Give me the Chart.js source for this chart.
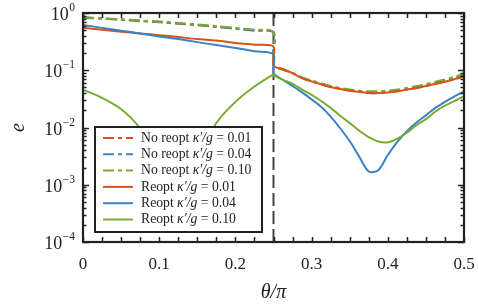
<!DOCTYPE html>
<html>
<head>
<meta charset="utf-8">
<script src="https://cdn.jsdelivr.net/npm/chart.js@4/dist/chart.umd.min.js"></script>
<style>
    html, body { margin: 0; padding: 0; background: #fff; }
    #wrap { width: 478px; height: 305px; position: relative; }
</style>
</head>
<body>
<div id="wrap"><canvas id="chartE"></canvas></div>
<script>
// ---- data ----
const thetaLeft = [0, 0.025, 0.05, 0.075, 0.1, 0.125, 0.15, 0.175, 0.2, 0.225, 0.25];
const thetaRight = [0.25, 0.2625, 0.275, 0.2875, 0.3, 0.3125, 0.325, 0.3375, 0.35, 0.3625, 0.375,
                    0.3875, 0.4, 0.4125, 0.425, 0.4375, 0.45, 0.4625, 0.475, 0.4875, 0.5];

// No reopt (dash-dot)
const noReopt01Left  = [0.83, 0.79, 0.76, 0.72, 0.69, 0.65, 0.61, 0.57, 0.53, 0.49, 0.45];
const noReopt04Left  = [0.84, 0.80, 0.77, 0.73, 0.70, 0.66, 0.62, 0.58, 0.54, 0.50, 0.455];
const noReopt10Left  = [0.85, 0.81, 0.78, 0.74, 0.71, 0.67, 0.63, 0.59, 0.55, 0.51, 0.46];
const noReopt01Right = [0.122, 0.103, 0.089, 0.073, 0.064, 0.057, 0.051, 0.047, 0.044, 0.042, 0.040,
                        0.040, 0.041, 0.043, 0.046, 0.049, 0.053, 0.058, 0.063, 0.070, 0.078];
const noReopt04Right = [0.122, 0.103, 0.089, 0.074, 0.065, 0.058, 0.052, 0.048, 0.045, 0.043, 0.041,
                        0.041, 0.042, 0.044, 0.047, 0.051, 0.055, 0.060, 0.066, 0.073, 0.083];
const noReopt10Right = [0.122, 0.104, 0.090, 0.075, 0.066, 0.059, 0.053, 0.049, 0.046, 0.044, 0.043,
                        0.043, 0.044, 0.046, 0.049, 0.053, 0.057, 0.063, 0.069, 0.077, 0.088];

// Reopt (solid)
const reopt01Left  = [0.55, 0.51, 0.47, 0.44, 0.41, 0.38, 0.35, 0.33, 0.30, 0.28, 0.26];
const reopt04Left  = [0.62, 0.55, 0.49, 0.44, 0.39, 0.35, 0.31, 0.275, 0.245, 0.215, 0.19];
const reopt10Left  = [0.046, 0.033, 0.021, 0.0098, 0.003, 0.0003, 0.003, 0.012, 0.028, 0.052, 0.085];
const reopt01Right = [0.122, 0.103, 0.089, 0.073, 0.064, 0.057, 0.051, 0.047, 0.044, 0.042, 0.040,
                      0.040, 0.041, 0.043, 0.046, 0.049, 0.053, 0.058, 0.063, 0.070, 0.078];
const reopt04Right = [0.090, 0.068, 0.053, 0.041, 0.031, 0.023, 0.0155, 0.0097, 0.0058, 0.0031, 0.0017,
                      0.0018, 0.0033, 0.0056, 0.0086, 0.0122, 0.0163, 0.022, 0.028, 0.035, 0.043];
const reopt10Right = [0.082, 0.068, 0.058, 0.046, 0.037, 0.029, 0.022, 0.016, 0.012, 0.0088, 0.0068,
                      0.0057, 0.0055, 0.0064, 0.0081, 0.011, 0.014, 0.019, 0.024, 0.029, 0.035];

const switchTheta = 0.25;
const xTicks = [0, 0.1, 0.2, 0.3, 0.4, 0.5];
const yTickExps = [0, -1, -2, -3, -4];
const kappaLabels = ['0.01', '0.04', '0.10'];

// ---- styling ----
const C_RED = '#D95319';
const C_BLUE = '#3B82C4';
const C_GREEN = '#77AC30';
const DASHDOT = [11, 4, 4, 4];
const SERIF = '"Liberation Serif", "DejaVu Serif", serif';

function joinSides(left, right) {
    const pts = thetaLeft.map((x, i) => ({ x: x, y: left[i] }));
    return pts.concat(thetaRight.map((x, i) => ({ x: x, y: right[i] })));
}

function lineSet(label, color, left, right, dashed, order) {
    return {
        label: label,
        data: joinSides(left, right),
        borderColor: color,
        backgroundColor: color,
        borderWidth: 2,
        borderDash: dashed ? DASHDOT : [],
        pointRadius: 0,
        tension: 0.3,
        order: order
    };
}

const datasets = [
    {
        label: 'switch',
        data: [{ x: switchTheta, y: 1e-4 }, { x: switchTheta, y: 1 }],
        borderColor: '#444',
        borderWidth: 2,
        borderDash: [13, 5],
        pointRadius: 0,
        order: 10
    },
    lineSet('No reopt 0.01', C_RED, noReopt01Left, noReopt01Right, true, 8),
    lineSet('No reopt 0.04', C_BLUE, noReopt04Left, noReopt04Right, true, 7),
    lineSet('No reopt 0.10', C_GREEN, noReopt10Left, noReopt10Right, true, 6),
    lineSet('Reopt 0.01', C_RED, reopt01Left, reopt01Right, false, 3),
    lineSet('Reopt 0.04', C_BLUE, reopt04Left, reopt04Right, false, 2),
    lineSet('Reopt 0.10', C_GREEN, reopt10Left, reopt10Right, false, 1)
];

const legendRows = [
    { kind: 'No reopt', color: C_RED, k: kappaLabels[0], dashed: true },
    { kind: 'No reopt', color: C_BLUE, k: kappaLabels[1], dashed: true },
    { kind: 'No reopt', color: C_GREEN, k: kappaLabels[2], dashed: true },
    { kind: 'Reopt', color: C_RED, k: kappaLabels[0], dashed: false },
    { kind: 'Reopt', color: C_BLUE, k: kappaLabels[1], dashed: false },
    { kind: 'Reopt', color: C_GREEN, k: kappaLabels[2], dashed: false }
];

// box, inward ticks, y labels, titles, legend
const framePlugin = {
    id: 'frame',
    afterDraw(chart) {
        const ctx = chart.ctx;
        const a = chart.chartArea;
        const xs = chart.scales.x;
        const ys = chart.scales.y;
        ctx.save();

        // inward ticks
        ctx.strokeStyle = '#222';
        ctx.lineWidth = 1.5;
        ctx.beginPath();
        for (let v = 0; v <= 0.5001; v += 0.025) {
            const px = Math.round(xs.getPixelForValue(v)) + 0.5;
            ctx.moveTo(px, a.bottom); ctx.lineTo(px, a.bottom - 5);
            ctx.moveTo(px, a.top); ctx.lineTo(px, a.top + 5);
        }
        for (let e = -4; e <= 0; e++) {
            for (let m = 1; m <= 9; m++) {
                const val = m * Math.pow(10, e);
                if (val > 1.0001) break;
                const py = Math.round(ys.getPixelForValue(val)) + 0.5;
                const len = m === 1 ? 6 : 3.5;
                ctx.moveTo(a.left, py); ctx.lineTo(a.left + len, py);
                ctx.moveTo(a.right, py); ctx.lineTo(a.right - len, py);
            }
        }
        ctx.stroke();

        // frame
        ctx.lineWidth = 2.2;
        ctx.strokeStyle = '#222';
        ctx.strokeRect(a.left, a.top, a.right - a.left, a.bottom - a.top);

        // y tick labels 10^n
        ctx.fillStyle = '#222';
        ctx.textBaseline = 'alphabetic';
        yTickExps.forEach(e => {
            const py = ys.getPixelForValue(Math.pow(10, e));
            ctx.font = '11.5px ' + SERIF;
            const exp = e === 0 ? '0' : '\u2212' + (-e);
            const ew = ctx.measureText(exp).width;
            const right = a.left - 8;
            ctx.textAlign = 'left';
            ctx.fillText(exp, right - ew, py - 2);
            ctx.font = '18px ' + SERIF;
            const bw = ctx.measureText('10').width;
            ctx.fillText('10', right - ew - bw - 0.5, py + 7);
        });

        // axis titles
        ctx.textAlign = 'center';
        ctx.font = 'italic 20px ' + SERIF;
        ctx.fillText('\u03b8/\u03c0', (a.left + a.right) / 2, 298);
        ctx.save();
        ctx.translate(19, (a.top + a.bottom) / 2);
        ctx.rotate(-Math.PI / 2);
        ctx.fillText('e', 0, 5);
        ctx.restore();

        // legend
        const lx = 95, ly = 127, lw = 167, lh = 105;
        ctx.fillStyle = '#fff';
        ctx.fillRect(lx, ly, lw, lh);
        ctx.lineWidth = 2;
        ctx.strokeStyle = '#222';
        ctx.strokeRect(lx, ly, lw, lh);
        legendRows.forEach((row, i) => {
            const y = ly + 11 + i * 16.3;
            ctx.beginPath();
            ctx.strokeStyle = row.color;
            ctx.lineWidth = 2;
            ctx.setLineDash(row.dashed ? DASHDOT : []);
            ctx.moveTo(103, y); ctx.lineTo(133, y);
            ctx.stroke();
            ctx.setLineDash([]);
            ctx.fillStyle = '#222';
            ctx.textAlign = 'left';
            ctx.textBaseline = 'middle';
            let tx = 141;
            ctx.font = '13.7px ' + SERIF;
            ctx.fillText(row.kind + ' ', tx, y);
            tx += ctx.measureText(row.kind + ' ').width;
            ctx.font = 'italic 13.7px ' + SERIF;
            ctx.fillText('\u03ba\u2032/g', tx, y);
            tx += ctx.measureText('\u03ba\u2032/g').width;
            ctx.font = '13.7px ' + SERIF;
            ctx.fillText(' = ' + row.k, tx, y);
        });

        ctx.restore();
    }
};

new Chart(document.getElementById('chartE').getContext('2d'), {
    type: 'line',
    data: { datasets: datasets },
    options: {
        responsive: true,
        maintainAspectRatio: false,
        animation: false,
        layout: { padding: { left: 0, right: 14, top: 13, bottom: 0 } },
        plugins: {
            legend: { display: false },
            tooltip: { enabled: false }
        },
        scales: {
            x: {
                type: 'linear',
                min: 0,
                max: 0.5,
                afterFit: scale => {
                    scale.height = 63;
                    scale.paddingLeft = 0;
                    scale.paddingRight = 0;
                },
                afterBuildTicks: scale => { scale.ticks = xTicks.map(v => ({ value: v })); },
                grid: { display: false, drawTicks: false },
                border: { display: false },
                ticks: {
                    padding: 12,
                    color: '#222',
                    font: { family: SERIF, size: 17 },
                    maxRotation: 0,
                    callback: v => String(v)
                }
            },
            y: {
                type: 'logarithmic',
                min: 1e-4,
                max: 1,
                afterFit: scale => {
                    scale.width = 83;
                    scale.paddingTop = 0;
                    scale.paddingBottom = 0;
                },
                grid: { display: false, drawTicks: false },
                border: { display: false },
                ticks: { display: false }
            }
        }
    },
    plugins: [framePlugin]
});
</script>
</body>
</html>
